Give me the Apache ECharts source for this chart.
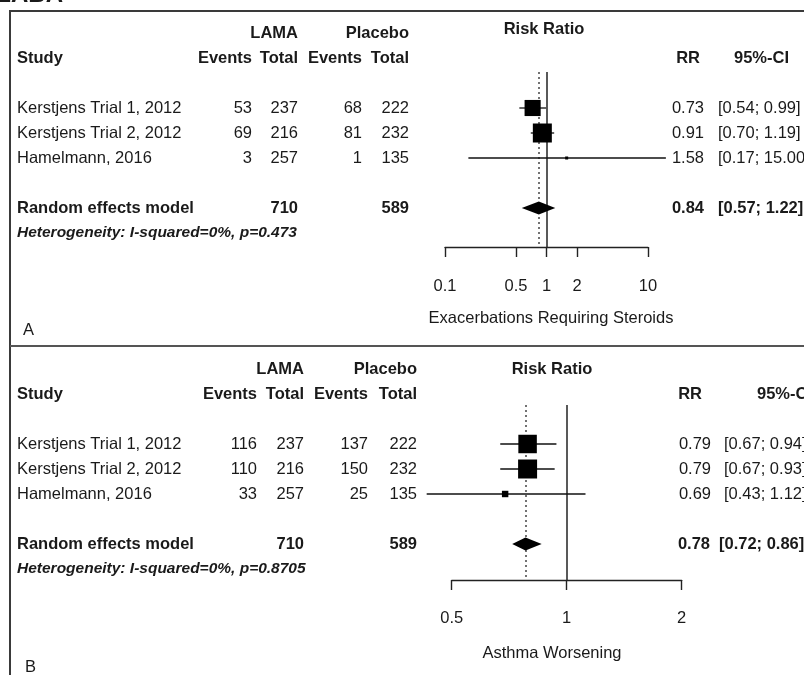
<!DOCTYPE html>
<html><head><meta charset="utf-8">
<script src="https://cdn.jsdelivr.net/npm/echarts@6/dist/echarts.min.js"></script>
<style>html,body{margin:0;padding:0;background:#fff}#c{width:804px;height:675px}</style>
</head><body><div id="c"></div><script>
// ---------- DATA ----------
const studies = ['Kerstjens Trial 1, 2012', 'Kerstjens Trial 2, 2012', 'Hamelmann, 2016'];

// Panel A: Exacerbations Requiring Steroids
const aLamaEvents = [53, 69, 3];
const aLamaTotal = [237, 216, 257];
const aPlacEvents = [68, 81, 1];
const aPlacTotal = [222, 232, 135];
const aRR = [0.73, 0.91, 1.58];
const aLo = [0.54, 0.70, 0.17];
const aHi = [0.99, 1.19, 15.00];
const aWeight = [41.5, 57.7, 0.8];
const aPooled = [0.84, 0.57, 1.22];
const aTotals = [710, 589];
const aHet = 'Heterogeneity: I-squared=0%, p=0.473';
const aTicks = [0.1, 0.5, 1, 2, 10];
const aXlab = 'Exacerbations Requiring Steroids';

// Panel B: Asthma Worsening
const bLamaEvents = [116, 110, 33];
const bLamaTotal = [237, 216, 257];
const bPlacEvents = [137, 150, 25];
const bPlacTotal = [222, 232, 135];
const bRR = [0.79, 0.79, 0.69];
const bLo = [0.67, 0.67, 0.43];
const bHi = [0.94, 0.93, 1.12];
const bWeight = [46.3, 48.9, 5.6];
const bPooled = [0.78, 0.72, 0.86];
const bTotals = [710, 589];
const bHet = 'Heterogeneity: I-squared=0%, p=0.8705';
const bTicks = [0.5, 1, 2];
const bXlab = 'Asthma Worsening';

// ---------- LAYOUT ----------
const FONT = '"Liberation Sans", Arial, Helvetica, sans-serif';
const FS = 16.5;
const INK = '#1a1a1a';
const ROW_H = 25;
const GRID_H = 175;
const MAX_BOX = 19;

const panels = [
  {
    letter: 'A', top: 72, yMin: -1.44, left: 445, width: 203, logBase: 10, min: 0.1, max: 10,
    ticks: aTicks, xlab: aXlab, het: aHet,
    le: aLamaEvents, lt: aLamaTotal, pe: aPlacEvents, pt: aPlacTotal,
    rr: aRR, lo: aLo, hi: aHi, w: aWeight, pooled: aPooled, totals: aTotals,
    rrY: 29, rrX: 544, xlabX: 551, xlabY: 318, letterX: 23, letterY: 330,
    cols: { evE: 252, evT: 298, plE: 362, plT: 409, rrR: 704, rrHeadR: 700, ciL: 718, ciHeadR: 789, poolRrR: 704, poolCiL: 718 },
    labelMargin: 31
  },
  {
    letter: 'B', top: 405, yMin: -1.56, left: 451.7, width: 230, logBase: 2, min: 0.5, max: 2,
    ticks: bTicks, xlab: bXlab, het: bHet,
    le: bLamaEvents, lt: bLamaTotal, pe: bPlacEvents, pt: bPlacTotal,
    rr: bRR, lo: bLo, hi: bHi, w: bWeight, pooled: bPooled, totals: bTotals,
    rrY: 369, rrX: 552, xlabX: 552, xlabY: 653, letterX: 25, letterY: 667,
    cols: { evE: 257, evT: 304, plE: 368, plT: 417, rrR: 711, rrHeadR: 702, ciL: 724, ciHeadR: 812, poolRrR: 710, poolCiL: 719 },
    labelMargin: 30
  }
];

function rowY(p, r) { return p.top + (r - p.yMin) * ROW_H; }

function txt(x, y, s, o) {
  o = o || {};
  return {
    type: 'text', x: x, y: y, silent: true,
    style: {
      text: String(s), fill: INK, fontFamily: FONT, fontSize: o.size || FS,
      fontWeight: o.bold ? 'bold' : 'normal', fontStyle: o.italic ? 'italic' : 'normal',
      align: o.align || 'left', verticalAlign: 'middle'
    }
  };
}

const graphics = [];
// cut-off title at top
graphics.push({ type: 'text', x: 63, y: 7, silent: true,
  style: { text: 'LABA', fill: INK, fontFamily: FONT, fontSize: 24, fontWeight: 'bold', align: 'right', verticalAlign: 'bottom' } });
// panel frames
const frame = { stroke: '#3a3a3a', lineWidth: 2 };
graphics.push({ type: 'line', silent: true, shape: { x1: 10, y1: 11, x2: 804, y2: 11 }, style: frame });
graphics.push({ type: 'line', silent: true, shape: { x1: 10, y1: 10, x2: 10, y2: 675 }, style: frame });
graphics.push({ type: 'line', silent: true, shape: { x1: 10, y1: 346, x2: 804, y2: 346 }, style: { stroke: '#555', lineWidth: 2 } });

panels.forEach(function (p) {
  const c = p.cols;
  const h1 = rowY(p, -3), h2 = rowY(p, -2);
  graphics.push(txt(c.evT, h1, 'LAMA', { bold: true, align: 'right' }));
  graphics.push(txt(c.plT, h1, 'Placebo', { bold: true, align: 'right' }));
  graphics.push(txt(p.rrX, p.rrY, 'Risk Ratio', { bold: true, align: 'center' }));
  graphics.push(txt(17, h2, 'Study', { bold: true }));
  graphics.push(txt(c.evE, h2, 'Events', { bold: true, align: 'right' }));
  graphics.push(txt(c.evT, h2, 'Total', { bold: true, align: 'right' }));
  graphics.push(txt(c.plE, h2, 'Events', { bold: true, align: 'right' }));
  graphics.push(txt(c.plT, h2, 'Total', { bold: true, align: 'right' }));
  graphics.push(txt(c.rrHeadR, h2, 'RR', { bold: true, align: 'right' }));
  graphics.push(txt(c.ciHeadR, h2, '95%-CI', { bold: true, align: 'right' }));
  studies.forEach(function (s, i) {
    const y = rowY(p, i);
    graphics.push(txt(17, y, s));
    graphics.push(txt(c.evE, y, p.le[i], { align: 'right' }));
    graphics.push(txt(c.evT, y, p.lt[i], { align: 'right' }));
    graphics.push(txt(c.plE, y, p.pe[i], { align: 'right' }));
    graphics.push(txt(c.plT, y, p.pt[i], { align: 'right' }));
    graphics.push(txt(c.rrR, y, p.rr[i].toFixed(2), { align: 'right' }));
    graphics.push(txt(c.ciL, y, '[' + p.lo[i].toFixed(2) + '; ' + p.hi[i].toFixed(2) + ']'));
  });
  const yp = rowY(p, 4);
  graphics.push(txt(17, yp, 'Random effects model', { bold: true }));
  graphics.push(txt(c.evT, yp, p.totals[0], { bold: true, align: 'right' }));
  graphics.push(txt(c.plT, yp, p.totals[1], { bold: true, align: 'right' }));
  graphics.push(txt(c.poolRrR, yp, p.pooled[0].toFixed(2), { bold: true, align: 'right' }));
  graphics.push(txt(c.poolCiL, yp, '[' + p.pooled[1].toFixed(2) + '; ' + p.pooled[2].toFixed(2) + ']', { bold: true }));
  graphics.push(txt(17, rowY(p, 5), p.het, { bold: true, italic: true, size: 15.5 }));
  graphics.push(txt(p.xlabX, p.xlabY, p.xlab, { align: 'center' }));
  graphics.push(txt(p.letterX, p.letterY, p.letter));
});

function makeRender(wMax) {
  return function (params, api) {
    const rr = api.value(0), row = api.value(1), lo = api.value(2), hi = api.value(3), w = api.value(4), kind = api.value(5);
    const pL = api.coord([lo, row]), pH = api.coord([hi, row]), pC = api.coord([rr, row]);
    if (kind === 1) {
      const h = 6.5;
      return { type: 'polygon', shape: { points: [[pL[0], pC[1]], [pC[0], pC[1] - h], [pH[0], pC[1]], [pC[0], pC[1] + h]] }, style: { fill: '#000' } };
    }
    const s = Math.max(MAX_BOX * Math.sqrt(w / wMax), 3);
    return { type: 'group', children: [
      { type: 'line', shape: { x1: pL[0], y1: pC[1], x2: pH[0], y2: pC[1] }, style: { stroke: '#111', lineWidth: 1.3 } },
      { type: 'rect', shape: { x: pC[0] - s / 2, y: pC[1] - s / 2, width: s, height: s }, style: { fill: '#000' } }
    ] };
  };
}

const grids = [], xAxes = [], yAxes = [], series = [];
panels.forEach(function (p, k) {
  grids.push({ left: p.left, width: p.width, top: p.top, height: GRID_H, containLabel: false });
  xAxes.push({
    type: 'log', logBase: p.logBase, min: p.min, max: p.max, gridIndex: k, position: 'bottom',
    axisLine: { show: true, onZero: false, lineStyle: { color: '#222', width: 1.4 } },
    axisTick: { show: true, length: 10, customValues: p.ticks, lineStyle: { color: '#222', width: 1.4 } },
    axisLabel: { customValues: p.ticks, margin: p.labelMargin, color: INK, fontSize: FS, fontFamily: FONT,
      formatter: function (v) { return String(+v.toPrecision(6)); } },
    splitLine: { show: false }, minorTick: { show: false }
  });
  yAxes.push({ type: 'value', gridIndex: k, inverse: true, min: p.yMin, max: p.yMin + GRID_H / ROW_H, show: false, splitLine: { show: false } });
  // reference lines (drawn beneath the marks)
  series.push({
    type: 'line', xAxisIndex: k, yAxisIndex: k, data: [], z: 1, silent: true,
    markLine: {
      silent: true, symbol: ['none', 'none'], label: { show: false },
      data: [
        { xAxis: 1, lineStyle: { type: 'solid', color: '#222', width: 1.5 } },
        { xAxis: p.pooled[0], lineStyle: { type: [2, 3], color: '#444', width: 1.5 } }
      ]
    }
  });
  const data = studies.map(function (s, i) { return [p.rr[i], i, p.lo[i], p.hi[i], p.w[i], 0]; });
  data.push([p.pooled[0], 4, p.pooled[1], p.pooled[2], 0, 1]);
  series.push({
    type: 'custom', xAxisIndex: k, yAxisIndex: k, clip: false, silent: true, z: 5,
    renderItem: makeRender(Math.max.apply(null, p.w)),
    encode: { x: 0, y: 1 },
    data: data
  });
});

const chart = echarts.init(document.getElementById('c'));
chart.setOption({
  animation: false,
  backgroundColor: '#fff',
  textStyle: { fontFamily: FONT },
  grid: grids, xAxis: xAxes, yAxis: yAxes, series: series,
  graphic: { elements: graphics }
});
</script></body></html>
